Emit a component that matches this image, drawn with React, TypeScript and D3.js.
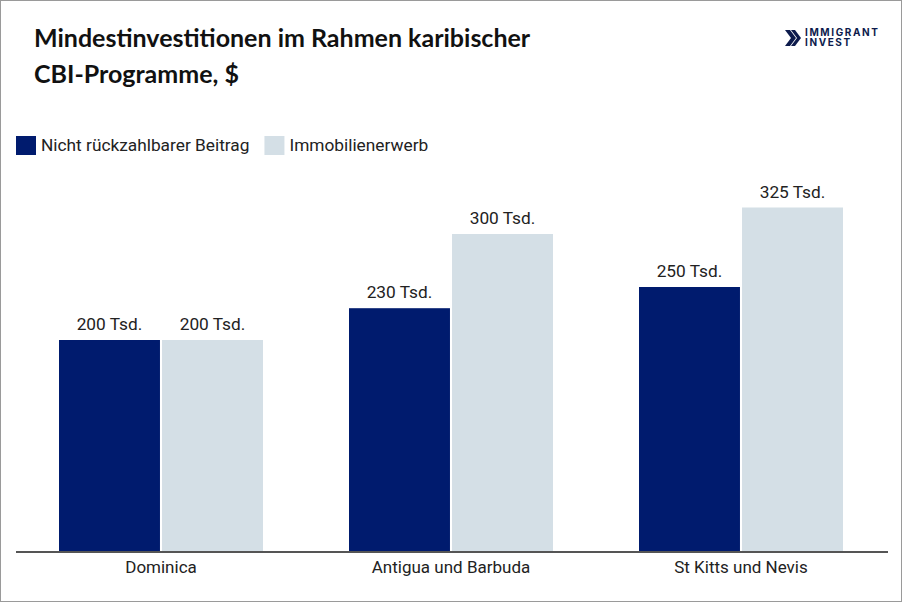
import * as d3 from "d3";
import { useEffect, useRef } from "react";

const countries = ["Dominica", "Antigua und Barbuda", "St Kitts und Nevis"];
const seriesNames = ["Nicht rückzahlbarer Beitrag", "Immobilienerwerb"];
const contribution = [200, 230, 250];
const realEstate = [200, 300, 325];
const colors = ["#001b6e", "#d4dfe6"];

const width = 902;
const height = 602;

export default function App() {
  const svgRef = useRef<SVGSVGElement | null>(null);

  useEffect(() => {
    if (!svgRef.current) return;
    const svg = d3.select(svgRef.current);
    svg.selectAll("*").remove();

    svg.append("rect")
      .attr("x", 0.5).attr("y", 0.5)
      .attr("width", width - 1).attr("height", height - 1)
      .attr("fill", "#fff").attr("stroke", "#9a9a9a");

    // Title
    const title = svg.append("text")
      .attr("font-family", "Lato, 'Open Sans', sans-serif")
      .attr("font-weight", 700)
      .attr("font-size", 25)
      .attr("fill", "#111");
    title.append("tspan").attr("x", 34).attr("y", 47).text("Mindestinvestitionen im Rahmen karibischer");
    title.append("tspan").attr("x", 34).attr("y", 83).text("CBI-Programme, $");

    // Logo
    const logo = svg.append("g").attr("transform", "translate(785, 29)");
    logo.append("path")
      .attr("d", "M0,1 L5,1 L11,9 L5,17 L0,17 L6,9 Z M6,1 L10,1 L16,9 L10,17 L6,17 L12,9 Z")
      .attr("fill", "#0d1b4c");
    logo.append("text").attr("x", 20).attr("y", 7)
      .attr("font-family", "Inter, sans-serif").attr("font-weight", 700)
      .attr("font-size", 10).attr("letter-spacing", 1.6)
      .attr("fill", "#0d1b4c").text("IMMIGRANT");
    logo.append("text").attr("x", 20).attr("y", 17)
      .attr("font-family", "Inter, sans-serif").attr("font-weight", 700)
      .attr("font-size", 10).attr("letter-spacing", 1.6)
      .attr("fill", "#0d1b4c").text("INVEST");

    // Legend
    const legend = svg.append("g").attr("transform", "translate(16, 136)");
    let lx = 0;
    seriesNames.forEach((name, i) => {
      legend.append("rect").attr("x", lx).attr("y", 0)
        .attr("width", 20).attr("height", 19).attr("fill", colors[i]);
      const t = legend.append("text").attr("x", lx + 25).attr("y", 15)
        .attr("font-family", "Roboto, sans-serif").attr("font-size", 17.3)
        .attr("fill", "#222").text(name);
      const w = (t.node() as SVGTextElement).getComputedTextLength();
      lx += 25 + w + 15;
    });

    const x0 = d3.scaleBand<string>().domain(countries).range([16, 886]);
    const x1 = d3.scaleBand<string>().domain(seriesNames).range([43, 247]).paddingInner(0.02);
    const y = d3.scaleLinear().domain([0, 400]).range([552, 128]);

    const data = countries.map((c, i) => ({ country: c, values: [contribution[i], realEstate[i]] }));

    const groups = svg.selectAll("g.grp").data(data).join("g")
      .attr("class", "grp")
      .attr("transform", (d) => `translate(${x0(d.country)},0)`);

    groups.selectAll("rect").data((d) => d.values.map((v, i) => ({ v, key: seriesNames[i], i })))
      .join("rect")
      .attr("x", (d) => x1(d.key)!)
      .attr("y", (d) => y(d.v))
      .attr("width", x1.bandwidth())
      .attr("height", (d) => y(0) - y(d.v))
      .attr("fill", (d) => colors[d.i]);

    groups.selectAll("text").data((d) => d.values.map((v, i) => ({ v, key: seriesNames[i] })))
      .join("text")
      .attr("x", (d) => x1(d.key)! + x1.bandwidth() / 2)
      .attr("y", (d) => y(d.v) - 10)
      .attr("text-anchor", "middle")
      .attr("font-family", "Roboto, sans-serif")
      .attr("font-size", 17.3)
      .attr("fill", "#222")
      .text((d) => `${d.v} Tsd.`);

    // X axis
    const axis = svg.append("g").attr("transform", "translate(0,552)")
      .call(d3.axisBottom(x0).tickSize(0).tickPadding(9));
    axis.select(".domain").attr("stroke", "#555").attr("stroke-width", 2)
      .attr("d", "M16,0H888");
    axis.selectAll("text").attr("font-family", "Roboto, sans-serif")
      .attr("font-size", 17).attr("fill", "#222");
  }, []);

  return (
    <svg
      ref={svgRef}
      width={width}
      height={height}
      style={{ position: "absolute", left: 0, top: 0 }}
    />
  );
}
